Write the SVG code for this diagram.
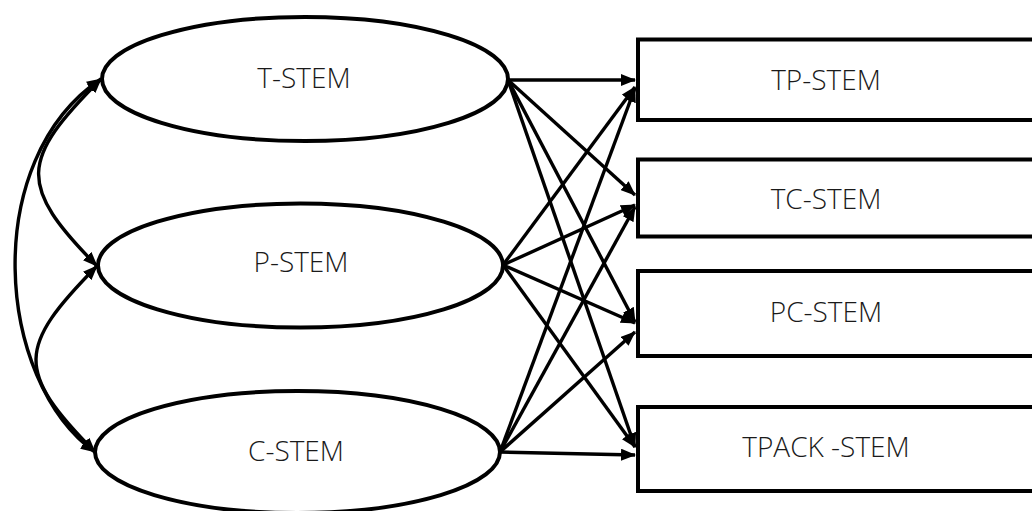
<svg xmlns="http://www.w3.org/2000/svg" width="1032" height="511" viewBox="0 0 1032 511">
<style>
.node ellipse, .node rect { fill: #fff; stroke: #000; stroke-width: 4; }
.node text { font-family: "Open Sans", "Liberation Sans", sans-serif; font-weight: 300; font-size: 28px; fill: #1a1a1a; text-anchor: middle; }
.conn path { fill: none; stroke: #000; stroke-width: 3.4; }
.conn .s { marker-end: url(#ah); }
.conn .d { marker-start: url(#ah); marker-end: url(#ah); }
</style>
<defs>
<marker id="ah" viewBox="0 0 15 12" refX="14" refY="6" markerWidth="15" markerHeight="12" markerUnits="userSpaceOnUse" orient="auto-start-reverse">
<path d="M0,0 L15,6 L0,12 z" fill="#000"/>
</marker>
</defs>
<rect width="1032" height="511" fill="#fff"/>
<g id="n-t-stem" class="node"><ellipse cx="305" cy="79" rx="203" ry="62"/><text x="304" y="88">T-STEM</text></g>
<g id="n-p-stem" class="node"><ellipse cx="300.5" cy="265.5" rx="202.5" ry="62"/><text x="301" y="272">P-STEM</text></g>
<g id="n-c-stem" class="node"><ellipse cx="297.5" cy="452" rx="202.5" ry="61"/><text x="296" y="461">C-STEM</text></g>
<g id="n-tp-stem" class="node"><rect x="638" y="39.5" width="450" height="80.5"/><text x="826" y="90">TP-STEM</text></g>
<g id="n-tc-stem" class="node"><rect x="638" y="159.5" width="450" height="77"/><text x="826" y="209">TC-STEM</text></g>
<g id="n-pc-stem" class="node"><rect x="638" y="271" width="450" height="85"/><text x="826" y="322">PC-STEM</text></g>
<g id="n-tpack-stem" class="node"><rect x="638" y="407" width="450" height="84"/><text x="826" y="457">TPACK -STEM</text></g>
<g id="connectors" class="conn">
<path class="d" d="M101,79 C20,160 17,185 97,266"/>
<path class="d" d="M97,266 C17,347 15,371 95,452"/>
<path class="d" d="M101,79 C-20,160 -5,380 95,452"/>
<path class="s" d="M508,80 L635,80"/>
<path class="s" d="M508,80 L635,195"/>
<path class="s" d="M508,80 L635,322"/>
<path class="s" d="M508,80 L635,447"/>
<path class="s" d="M503,265 L635,87"/>
<path class="s" d="M503,265 L635,205"/>
<path class="s" d="M503,265 L635,323"/>
<path class="s" d="M503,265 L635,447"/>
<path class="s" d="M500,452 L635,88"/>
<path class="s" d="M500,452 L635,207"/>
<path class="s" d="M500,452 L635,332"/>
<path class="s" d="M500,452 L635,455"/>
</g>
</svg>
